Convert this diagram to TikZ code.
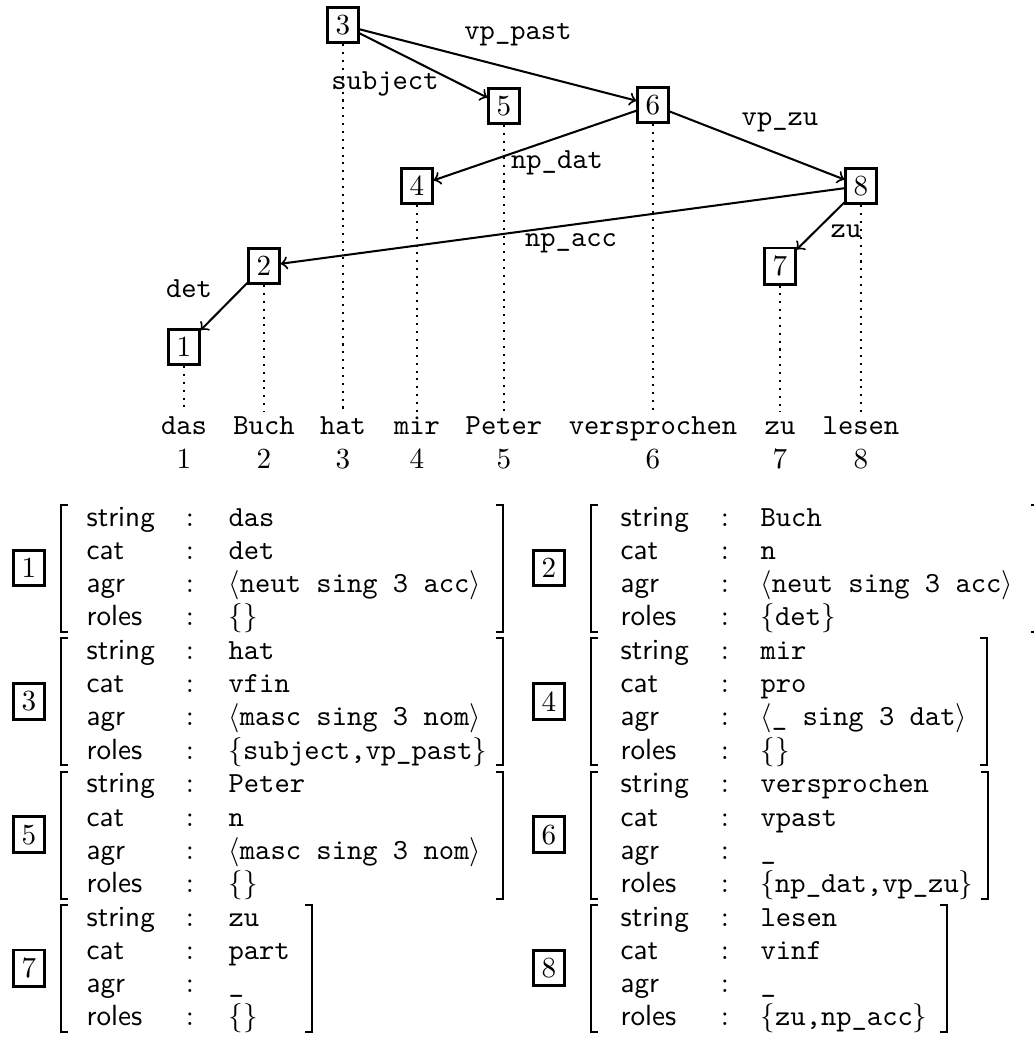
\documentclass[tikz,border=0pt]{standalone}
\begin{document}
\begin{tikzpicture}[x=0.343pt, y=-0.343pt,
    tbox/.style={draw, line width=1pt, inner sep=2.7pt},
    arc/.style={->, line width=0.7pt},
    dots/.style={dotted, line width=0.7pt},
    lbl/.style={font=\ttfamily, anchor=base, inner sep=0pt},
    word/.style={font=\ttfamily, text height=7pt, text depth=2pt, inner sep=0.5pt, anchor=base},
    idx/.style={anchor=base, inner sep=0pt},
    attr/.style={font=\sffamily, anchor=base west, inner sep=0pt},
    colon/.style={anchor=base, inner sep=0pt},
    val/.style={font=\ttfamily, anchor=base west, inner sep=0pt},
    brk/.style={line width=0.7pt}]
    \useasboundingbox (0,0) rectangle (1034,1039);
    \node[tbox] (t3) at (343,25) {3};
    \node[tbox] (t5) at (504,106) {5};
    \node[tbox] (t6) at (653,105) {6};
    \node[tbox] (t4) at (417,186) {4};
    \node[tbox] (t8) at (861,186) {8};
    \node[tbox] (t2) at (264,266) {2};
    \node[tbox] (t7) at (780,266) {7};
    \node[tbox] (t1) at (184,347) {1};
    \draw[arc] (t3) -- (t5);
    \draw[arc] (t3) -- (t6);
    \draw[arc] (t6) -- (t4);
    \draw[arc] (t6) -- (t8);
    \draw[arc] (t8) -- (t2);
    \draw[arc] (t8) -- (t7);
    \draw[arc] (t2) -- (t1);
    \node[lbl] (vppast) at (518,39) {vp\_past};
    \node[lbl] (subj) at (385,89) {subject};
    \node[lbl] (npdat) at (557,168) {np\_dat};
    \node[lbl] (vpzu) at (780,125) {vp\_zu};
    \node[lbl] (npacc) at (571,246) {np\_acc};
    \node[lbl] (zu) at (846,237) {zu};
    \node[lbl] (det) at (189,297) {det};
    \foreach \i/\x/\w in {1/184/das, 2/264/Buch, 3/343/hat, 4/417/mir, 5/504/Peter,
                          6/653/versprochen, 7/780/zu, 8/861/lesen} {
        \node[word] (w\i) at (\x,434) {\w};
        \node[idx] (n\i) at (\x,468) {\i};
        \draw[dots] (t\i) -- (w\i);
    }
    \foreach \i/\cl/\y/\rb/\vs/\vc/\va/\vr in {
        1/0/0/503/das/det/{$\langle$neut sing 3 acc$\rangle$}/{$\{\}$},
        2/1/0/1038/Buch/n/{$\langle$neut sing 3 acc$\rangle$}/{$\{$det$\}$},
        3/0/133.3/503/hat/vfin/{$\langle$masc sing 3 nom$\rangle$}/{$\{$subject,vp\_past$\}$},
        4/1/133.3/987/mir/pro/{$\langle$\_ sing 3 dat$\rangle$}/{$\{\}$},
        5/0/266.7/503/Peter/n/{$\langle$masc sing 3 nom$\rangle$}/{$\{\}$},
        6/1/266.7/988/versprochen/vpast/\_/{$\{$np\_dat,vp\_zu$\}$},
        7/0/400/312/zu/part/\_/{$\{\}$},
        8/1/400/947/lesen/vinf/\_/{$\{$zu,np\_acc$\}$}} {
        \node[tbox] (f\i) at (29+520*\cl,568+\y) {\i};
        \draw[brk] (68+530*\cl,505+\y) -| (61+530*\cl,632+\y) -- (68+530*\cl,632+\y);
        \draw[brk] (\rb-7,505+\y) -| (\rb,632+\y) -- (\rb-7,632+\y);
        \foreach \at/\vl [count=\k from 0] in {string/\vs, cat/\vc, agr/\va, roles/\vr} {
            \node[attr] (a\i-\k) at (86+534*\cl,526+\y+33.3*\k) {\at};
            \node[colon] (c\i-\k) at (190+535*\cl,526+\y+33.3*\k) {:};
            \node[val] (v\i-\k) at (228+532*\cl,526+\y+33.3*\k) {\vl};
        }
    }
\end{tikzpicture}
\end{document}
